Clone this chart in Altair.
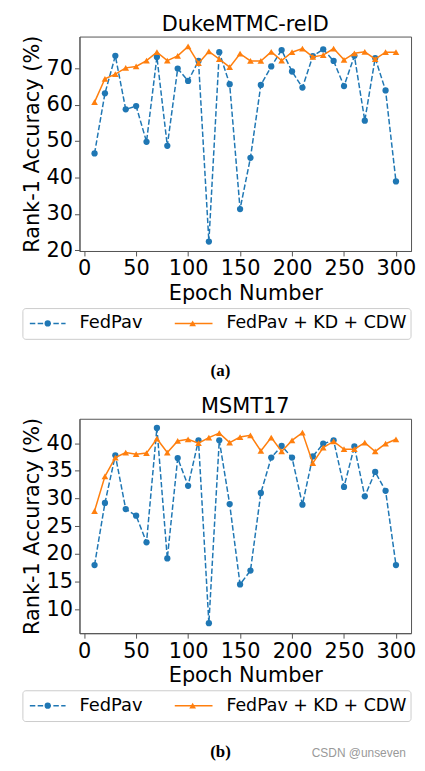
import altair as alt
import pandas as pd

epochs = list(range(10, 310, 10))

duke_fedpav = [46.6, 63.1, 73.4, 58.7, 59.6, 49.8, 73.1, 48.7, 69.9, 66.5,
               72.0, 22.4, 74.4, 65.6, 31.3, 45.4, 65.4, 70.5, 75.0, 69.1,
               64.7, 73.3, 75.2, 72.0, 65.1, 73.4, 55.6, 72.8, 63.9, 38.9]
duke_kdcdw = [60.7, 67.1, 68.4, 70.1, 70.5, 72.1, 74.4, 72.1, 73.4, 76.0,
              71.4, 74.6, 72.5, 70.3, 74.0, 72.0, 72.0, 74.5, 72.1, 74.4,
              75.4, 73.1, 73.6, 75.4, 72.3, 74.1, 74.5, 72.5, 74.4, 74.4]

msmt_fedpav = [18.0, 29.2, 37.8, 28.1, 26.9, 22.1, 42.75, 19.2, 37.3, 32.3,
               40.5, 7.5, 40.5, 29.0, 14.5, 17.0, 31.0, 37.4, 39.5, 37.4,
               28.9, 37.6, 39.9, 40.5, 32.1, 39.4, 30.4, 34.8, 31.4, 18.0]
msmt_kdcdw = [27.75, 34.0, 37.4, 38.3, 38.0, 38.2, 40.8, 38.3, 40.4, 40.7,
              40.0, 41.0, 41.8, 40.1, 41.1, 41.4, 38.6, 41.0, 38.5, 40.5,
              41.9, 36.4, 39.2, 40.3, 38.9, 38.9, 40.1, 38.5, 39.9, 40.7]

x_ticks = [0, 50, 100, 150, 200, 250, 300]
duke_y_ticks = [20, 30, 40, 50, 60, 70]
msmt_y_ticks = [10, 15, 20, 25, 30, 35, 40]

series_names = ["FedPav", "FedPav + KD + CDW"]
BLUE = "#1f77b4"
ORANGE = "#ff7f0e"
FONT = "DejaVu Sans"
W, H = 334, 216


def panel(title, fedpav, kdcdw, y_domain, y_ticks, tag, cap_y):
    df_b = pd.DataFrame({"epoch": epochs, "acc": fedpav})
    df_o = pd.DataFrame({"epoch": epochs, "acc": kdcdw})
    xs = alt.X("epoch:Q", scale=alt.Scale(domain=[-4.5, 314.5], nice=False, zero=False),
               axis=alt.Axis(values=x_ticks, title="Epoch Number", grid=False))
    ys = alt.Y("acc:Q", scale=alt.Scale(domain=y_domain, nice=False, zero=False),
               axis=alt.Axis(values=y_ticks, title="Rank-1 Accuracy (%)", grid=False))
    lb = alt.Chart(df_b).mark_line(color=BLUE, strokeWidth=1.5, strokeDash=[5.5, 2.4]).encode(x=xs, y=ys)
    pb = alt.Chart(df_b).mark_point(color=BLUE, filled=True, opacity=1, size=40, shape="circle").encode(x=xs, y=ys)
    lo = alt.Chart(df_o).mark_line(color=ORANGE, strokeWidth=1.5).encode(x=xs, y=ys)
    po = alt.Chart(df_o).mark_point(color=ORANGE, filled=True, opacity=1, size=45, shape="triangle-up").encode(x=xs, y=ys)

    one = pd.DataFrame({"k": [0]})
    ttl = alt.Chart(one).mark_text(text=title, font=FONT, fontSize=21, align="center",
                                    baseline="top", color="black").encode(
        x=alt.value(W / 2), y=alt.value(-23))
    ly = 289
    box = alt.Chart(one).mark_rect(fill="white", stroke="#cccccc", strokeWidth=1, cornerRadius=3).encode(
        x=alt.value(-57), x2=alt.value(334), y=alt.value(ly - 15), y2=alt.value(ly + 16))
    r1 = alt.Chart(one).mark_rule(color=BLUE, strokeWidth=1.5, strokeDash=[5.5, 2.4]).encode(
        x=alt.value(-50), x2=alt.value(-14), y=alt.value(ly))
    m1 = alt.Chart(one).mark_point(color=BLUE, filled=True, opacity=1, size=40, shape="circle").encode(
        x=alt.value(-32), y=alt.value(ly))
    t1 = alt.Chart(one).mark_text(text=series_names[0], font=FONT, fontSize=18, align="left",
                                   baseline="middle", color="black").encode(x=alt.value(0), y=alt.value(ly))
    r2 = alt.Chart(one).mark_rule(color=ORANGE, strokeWidth=1.5).encode(
        x=alt.value(96), x2=alt.value(134), y=alt.value(ly))
    m2 = alt.Chart(one).mark_point(color=ORANGE, filled=True, opacity=1, size=45, shape="triangle-up").encode(
        x=alt.value(114), y=alt.value(ly))
    t2 = alt.Chart(one).mark_text(text=series_names[1], font=FONT, fontSize=17.5, align="left",
                                   baseline="middle", color="black").encode(x=alt.value(148), y=alt.value(ly))
    cap = alt.Chart(one).mark_text(text=tag, font="Liberation Serif", fontSize=17, fontWeight="bold",
                                    align="center", baseline="bottom", color="black").encode(
        x=alt.value(142), y=alt.value(cap_y))
    layers = [lb, pb, lo, po, ttl, box, r1, m1, t1, r2, m2, t2, cap]
    if tag == "(b)":
        wm = alt.Chart(one).mark_text(text="CSDN @unseven", font="Liberation Sans", fontSize=12,
                                       align="left", baseline="bottom", color="#999999").encode(
            x=alt.value(234), y=alt.value(344))
        layers.append(wm)
    return alt.layer(*layers).properties(width=W, height=H)


a = panel("DukeMTMC-reID", duke_fedpav, duke_kdcdw, [19.8, 78.7], duke_y_ticks, "(a)", 346)
b = panel("MSMT17", msmt_fedpav, msmt_kdcdw, [5.7, 44.4], msmt_y_ticks, "(b)", 345)

chart = alt.vconcat(a, b, spacing=169, bounds="flush").properties(
    padding={"left": 12, "top": 2, "right": 0, "bottom": 0}
).configure_view(stroke="#555555", strokeWidth=1).configure_axis(
    labelFont=FONT, titleFont=FONT, labelFontSize=21, titleFontSize=21,
    labelColor="black", titleColor="black", titleFontWeight="normal",
    domainColor="#555555", tickColor="#555555", tickSize=5, labelPadding=2, titlePadding=4,
    domain=True
)

chart.save("out.html", embed_options={"renderer": "svg", "actions": False})
